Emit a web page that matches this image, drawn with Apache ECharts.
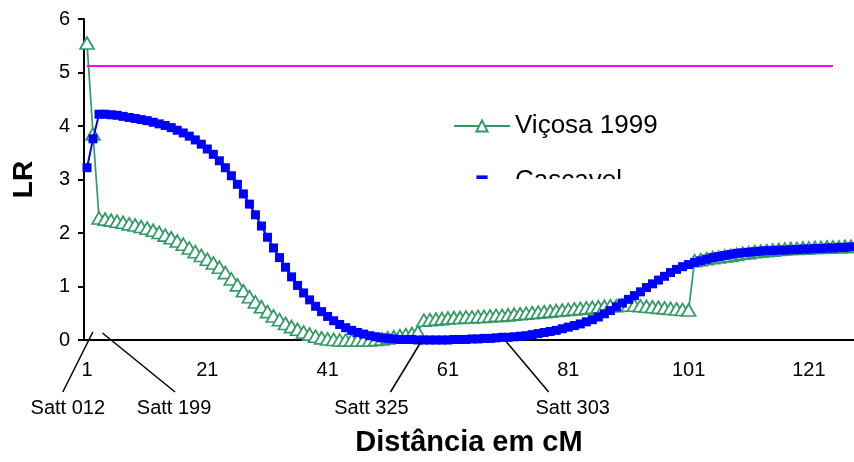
<!DOCTYPE html>
<html>
<head>
<meta charset="utf-8">
<script src="https://cdn.jsdelivr.net/npm/echarts@6/dist/echarts.min.js"></script>
<style>
  html, body { margin: 0; padding: 0; background: #fff; }
  #chart { width: 854px; height: 462px; }
</style>
</head>
<body>
<div id="chart"></div>
<script>
// posições no mapa (cM), uma categoria por cM
var distancias = Array.from({ length: 128 }, function (_, i) { return String(i + 1); });

// LR - Viçosa 1999
var vicosa = [
  5.55, 3.85, 2.28, 2.26, 2.24, 2.22, 2.20, 2.17, 2.15, 2.12,
  2.09, 2.05, 2.01, 1.96, 1.91, 1.85, 1.79, 1.72, 1.65, 1.58,
  1.51, 1.44, 1.36, 1.26, 1.14, 1.03, 0.92, 0.81, 0.71, 0.62,
  0.53, 0.45, 0.38, 0.31, 0.25, 0.20, 0.15, 0.11, 0.07, 0.04,
  0.02, 0.01, 0.00, 0.00, 0.00, 0.00, 0.00, 0.00, 0.01, 0.02,
  0.04, 0.06, 0.08, 0.10, 0.12, 0.15, 0.37, 0.38, 0.39, 0.40,
  0.41, 0.42, 0.42, 0.43, 0.43, 0.44, 0.44, 0.45, 0.46, 0.46,
  0.47, 0.48, 0.49, 0.50, 0.51, 0.52, 0.53, 0.54, 0.55, 0.56,
  0.57, 0.58, 0.59, 0.60, 0.61, 0.62, 0.63, 0.64, 0.64, 0.65,
  0.65, 0.65, 0.64, 0.63, 0.62, 0.61, 0.60, 0.59, 0.58, 0.57,
  0.56, 1.48, 1.50, 1.52, 1.54, 1.55, 1.57, 1.58, 1.60, 1.62,
  1.63, 1.65, 1.66, 1.67, 1.68, 1.69, 1.70, 1.71, 1.71, 1.72,
  1.72, 1.73, 1.73, 1.74, 1.74, 1.74, 1.75, 1.75
];

// LR - Cascavel
var cascavel = [
  3.22, 3.76, 4.22, 4.22, 4.21, 4.20, 4.18, 4.16, 4.14, 4.12,
  4.10, 4.07, 4.04, 4.01, 3.97, 3.92, 3.87, 3.81, 3.74, 3.66,
  3.57, 3.47, 3.35, 3.22, 3.07, 2.91, 2.73, 2.54, 2.34, 2.13,
  1.92, 1.72, 1.54, 1.36, 1.18, 1.02, 0.88, 0.75, 0.63, 0.53,
  0.44, 0.36, 0.29, 0.23, 0.18, 0.14, 0.11, 0.08, 0.06, 0.04,
  0.03, 0.02, 0.01, 0.01, 0.01, 0.00, 0.00, 0.00, 0.00, 0.00,
  0.00, 0.01, 0.01, 0.01, 0.02, 0.02, 0.03, 0.03, 0.04, 0.05,
  0.05, 0.06, 0.07, 0.08, 0.10, 0.12, 0.14, 0.16, 0.18, 0.21,
  0.24, 0.27, 0.30, 0.34, 0.38, 0.43, 0.49, 0.55, 0.62, 0.69,
  0.76, 0.83, 0.90, 0.98, 1.05, 1.12, 1.19, 1.26, 1.32, 1.37,
  1.41, 1.45, 1.48, 1.51, 1.54, 1.56, 1.58, 1.60, 1.62, 1.63,
  1.64, 1.65, 1.66, 1.67, 1.67, 1.68, 1.68, 1.69, 1.69, 1.70,
  1.70, 1.71, 1.71, 1.72, 1.72, 1.73, 1.73, 1.74
];

// limiar de significância (linha magenta)
var limiarLR = 5.12;
var limiarDe = '1';
var limiarAte = '125';

// marcadores moleculares e posição (cM) onde apontam no eixo
var marcadores = ['Satt 012', 'Satt 199', 'Satt 325', 'Satt 303'];
var marcadoresCM = [1.3, 5.0, 56.6, 70.6];

var fonte = 'Liberation Sans, Arial, Helvetica, sans-serif';
var verde = '#339966';
var azul = '#0000ff';

var myChart = echarts.init(document.getElementById('chart'));

var option = {
  animation: false,
  backgroundColor: '#fff',
  textStyle: { fontFamily: fonte },
  grid: { left: 84, right: 0, top: 19, bottom: 120 },
  legend: {
    data: ['Viçosa 1999', 'Cascavel'],
    orient: 'vertical',
    left: 453,
    top: 113,
    padding: 0,
    itemWidth: 56,
    itemHeight: 14,
    itemGap: 29,
    selectedMode: false,
    textStyle: { fontSize: 26, color: '#000', fontFamily: fonte }
  },
  xAxis: {
    type: 'category',
    data: distancias,
    boundaryGap: true,
    name: 'Distância em cM',
    nameLocation: 'middle',
    nameGap: 88,
    nameTextStyle: { fontSize: 29, fontWeight: 'bold', color: '#000', fontFamily: fonte },
    axisLine: { lineStyle: { color: '#000', width: 2 } },
    axisTick: { interval: 19, alignWithLabel: true, length: 5, lineStyle: { color: '#000', width: 2 } },
    axisLabel: { interval: 19, margin: 20, fontSize: 20, color: '#000', fontFamily: fonte },
    splitLine: { show: false }
  },
  yAxis: {
    type: 'value',
    min: 0,
    max: 6,
    interval: 1,
    name: 'LR',
    nameLocation: 'middle',
    nameGap: 46,
    nameRotate: 90,
    nameTextStyle: { fontSize: 28, fontWeight: 'bold', color: '#000', fontFamily: fonte },
    axisLine: { show: true, lineStyle: { color: '#000', width: 2 } },
    axisTick: { show: true, length: 6, lineStyle: { color: '#000', width: 2 } },
    axisLabel: { margin: 14, fontSize: 20, color: '#000', fontFamily: fonte },
    splitLine: { show: false }
  },
  series: [
    {
      name: 'Viçosa 1999',
      type: 'line',
      data: vicosa,
      clip: false,
      showAllSymbol: true,
      symbol: 'triangle',
      symbolSize: [14, 12],
      itemStyle: { color: '#fff', borderColor: verde, borderWidth: 1.7 },
      lineStyle: { color: verde, width: 1.7 },
      z: 2,
      markLine: {
        silent: true,
        symbol: 'none',
        label: { show: false },
        lineStyle: { color: '#ff00ff', width: 2, type: 'solid' },
        data: [[{ coord: [limiarDe, limiarLR] }, { coord: [limiarAte, limiarLR] }]]
      }
    },
    {
      name: 'Cascavel',
      type: 'line',
      data: cascavel,
      clip: false,
      showAllSymbol: true,
      symbol: 'rect',
      symbolSize: 9,
      itemStyle: { color: azul },
      lineStyle: { color: azul, width: 2 },
      z: 3
    }
  ]
};

myChart.setOption(option);

// setas dos marcadores + recorte da legenda (a legenda original aparece cortada)
var p0 = myChart.convertToPixel({ xAxisIndex: 0 }, 0);
var p1 = myChart.convertToPixel({ xAxisIndex: 0 }, 1);
var banda = p1 - p0;
var y0 = myChart.convertToPixel({ yAxisIndex: 0 }, 0);
// [dx topo, dy topo, dx base, dx texto]
var ajustes = [[4, -8, -26, -21], [-8.6, -7, 64, 63], [0, 1, -31, -50], [0, 1, 43, 67]];

var graficos = [{
  type: 'rect',
  shape: { x: 440, y: 179, width: 220, height: 24 },
  style: { fill: '#fff' },
  z: 100
}];
marcadores.forEach(function (nome, i) {
  var x = p0 + (marcadoresCM[i] - 1) * banda;
  var a = ajustes[i];
  graficos.push({
    type: 'line',
    shape: { x1: x + a[0], y1: y0 + a[1], x2: x + a[2], y2: y0 + 52 },
    style: { stroke: '#000', lineWidth: 1.5 },
    z: 50
  });
  graficos.push({
    type: 'text',
    x: x + a[3],
    y: y0 + 68,
    style: { text: nome, fontSize: 20, fontFamily: fonte, fill: '#000', align: 'center', verticalAlign: 'middle' },
    z: 50
  });
});
myChart.setOption({ graphic: graficos });

window.addEventListener('resize', function () {
  myChart.resize();
});
</script>
</body>
</html>
